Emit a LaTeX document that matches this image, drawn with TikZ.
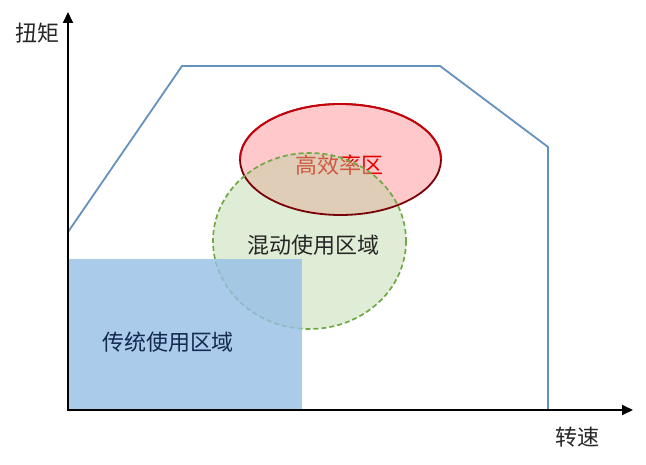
\documentclass[tikz,border=0pt]{standalone}
\usepackage{fontspec}
\newfontfamily\cjk{Noto Sans CJK SC}
\usetikzlibrary{arrows.meta}
\definecolor{envc}{RGB}{100,145,190}
\definecolor{redfill}{RGB}{255,200,202}
\definecolor{rededge}{RGB}{200,0,10}
\definecolor{greenfill}{RGB}{180,212,158}
\definecolor{greenedge}{RGB}{112,168,70}
\definecolor{bluefill}{RGB}{150,190,230}
\definecolor{bluetext}{RGB}{20,40,80}
\tikzset{
  lbl/.style={font=\cjk\fontsize{22}{24}\selectfont, inner sep=0pt},
  axisline/.style={line width=1.8pt, -{Triangle[length=11pt,width=10pt]}},
}
\begin{document}
\begin{tikzpicture}[x=1pt,y=-1pt]
\useasboundingbox (0,0) rectangle (646,465);
% envelope
\coordinate (e0) at (68,232);
\coordinate (e1) at (182,66);
\coordinate (e2) at (440,66);
\coordinate (e3) at (548,147);
\coordinate (e4) at (548,410);
\draw[envc, line width=1.8pt] (e0) -- (e1) -- (e2) -- (e3) -- (e4);
% high efficiency zone
\fill[redfill] (340.5,159.5) ellipse [x radius=100.5, y radius=55.5];
\node[lbl, text=red!90!black] (hz) at (339,165) {高效率区};
% hybrid zone
\fill[greenfill, opacity=0.42] (309.5,241) ellipse [x radius=96.5, y radius=88];
\draw[rededge!60!black, line width=1.8pt] (340.5,159.5) ellipse [x radius=100.5, y radius=55.5];
\draw[rededge, line width=1.8pt] (340.5,159.5) ++(-100.5,0) arc[start angle=180, end angle=0, x radius=100.5, y radius=-55.5];
\draw[greenedge, line width=1.7pt, dash pattern=on 5pt off 3pt] (309.5,241) ellipse [x radius=96.5, y radius=88];
\node[lbl, text=black!85] (hy) at (313,245) {混动使用区域};
% conventional zone
\fill[bluefill, opacity=0.8] (69,259) rectangle (302,409);
\node[lbl, text=bluetext] (cv) at (168,342) {传统使用区域};
% axes
\coordinate (o) at (68,410);
\coordinate (ytop) at (68,12);
\coordinate (xend) at (633,410);
\draw[axisline] (o) -- (ytop);
\draw[axisline] ([xshift=-0.9pt]o) -- (xend);
\node[lbl, text=black!85] (yl) at (38,33) {扭矩};
\node[lbl, text=black!85] (xl) at (577,437) {转速};
\end{tikzpicture}
\end{document}
